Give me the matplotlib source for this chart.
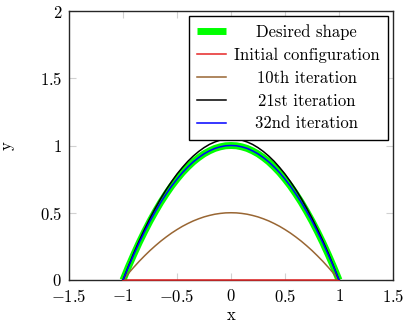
import matplotlib
matplotlib.use("Agg")
import matplotlib.pyplot as plt

plt.rcParams['font.family'] = ['cmr10', 'DejaVu Serif']
plt.rcParams['mathtext.fontset'] = 'cm'
plt.rcParams['axes.formatter.use_mathtext'] = True
plt.rcParams['font.size'] = 12

x = [-1.0, -0.95, -0.9, -0.85, -0.8, -0.75, -0.7, -0.65, -0.6, -0.55, -0.5,
     -0.45, -0.4, -0.35, -0.3, -0.25, -0.2, -0.15, -0.1, -0.05, 0.0,
     0.05, 0.1, 0.15, 0.2, 0.25, 0.3, 0.35, 0.4, 0.45, 0.5,
     0.55, 0.6, 0.65, 0.7, 0.75, 0.8, 0.85, 0.9, 0.95, 1.0]
desired = [0.0, 0.098, 0.19, 0.278, 0.36, 0.438, 0.51, 0.578, 0.64, 0.698, 0.75,
           0.798, 0.84, 0.878, 0.91, 0.938, 0.96, 0.978, 0.99, 0.998, 1.0,
           0.998, 0.99, 0.978, 0.96, 0.938, 0.91, 0.878, 0.84, 0.798, 0.75,
           0.698, 0.64, 0.578, 0.51, 0.438, 0.36, 0.278, 0.19, 0.098, 0.0]
initial = [0.0] * 41
iter10 = [0.0, 0.049, 0.095, 0.139, 0.18, 0.219, 0.255, 0.289, 0.32, 0.349, 0.375,
          0.399, 0.42, 0.439, 0.455, 0.469, 0.48, 0.489, 0.495, 0.499, 0.5,
          0.499, 0.495, 0.489, 0.48, 0.469, 0.455, 0.439, 0.42, 0.399, 0.375,
          0.349, 0.32, 0.289, 0.255, 0.219, 0.18, 0.139, 0.095, 0.049, 0.0]
iter21 = [0.0, 0.102, 0.2, 0.291, 0.377, 0.459, 0.535, 0.606, 0.672, 0.732, 0.788,
          0.837, 0.882, 0.921, 0.955, 0.984, 1.008, 1.026, 1.04, 1.047, 1.05,
          1.047, 1.04, 1.026, 1.008, 0.984, 0.955, 0.921, 0.882, 0.837, 0.788,
          0.732, 0.672, 0.606, 0.535, 0.459, 0.377, 0.291, 0.2, 0.102, 0.0]
iter32 = [0.0, 0.098, 0.19, 0.278, 0.36, 0.438, 0.51, 0.578, 0.64, 0.698, 0.75,
          0.798, 0.84, 0.878, 0.91, 0.938, 0.96, 0.978, 0.99, 0.998, 1.0,
          0.998, 0.99, 0.978, 0.96, 0.938, 0.91, 0.878, 0.84, 0.798, 0.75,
          0.698, 0.64, 0.578, 0.51, 0.438, 0.36, 0.278, 0.19, 0.098, 0.0]

labels = ["Desired shape", "Initial configuration", "10th iteration",
          "21st iteration", "32nd iteration"]
xticks = [-1.5, -1, -0.5, 0, 0.5, 1, 1.5]
yticks = [0, 0.5, 1, 1.5, 2]

fig = plt.figure(figsize=(4.15, 3.24), dpi=100)
ax = fig.add_axes([69/415, 44/324, (393-69)/415, (280-11)/324])

ax.plot(x, desired, color=(0, 1, 0), lw=5, solid_capstyle='butt', label=labels[0], zorder=2)
ax.plot(x, initial, color=(0.9, 0.15, 0.15), lw=1.1, label=labels[1], zorder=3, clip_on=False)
ax.plot(x, iter10, color=(0.6, 0.4, 0.2), lw=1.1, label=labels[2], zorder=3)
ax.plot(x, iter21, color='black', lw=1.1, label=labels[3], zorder=3)
ax.plot(x, iter32, color='blue', lw=1.1, label=labels[4], zorder=4)

ax.set_xlim(-1.5, 1.5)
ax.set_ylim(0, 2)
ax.set_xticks(xticks)
ax.set_yticks(yticks)
ax.set_xticklabels(["$-1.5$", "$-1$", "$-0.5$", "$0$", "$0.5$", "$1$", "$1.5$"])
ax.set_yticklabels(["$0$", "$0.5$", "$1$", "$1.5$", "$2$"])
ax.tick_params(direction='in', length=5, width=0.8, color=(0.82, 0.82, 0.82),
               top=True, right=True, labelsize=12)
ax.tick_params(axis='x', pad=6)
ax.tick_params(axis='y', pad=5)
for s in ax.spines.values():
    s.set_linewidth(1.0)
    s.set_color((0.15, 0.15, 0.15))
ax.set_xlabel("x", fontsize=12, labelpad=2)
ax.set_ylabel("y", fontsize=12, labelpad=18, rotation=90)

leg = ax.legend(loc='upper right', fontsize=12, frameon=True, fancybox=False,
                edgecolor='black', framealpha=1, borderaxespad=0.3,
                handlelength=1.75, handletextpad=0.45, labelspacing=0.45,
                borderpad=0.5)
leg.get_frame().set_linewidth(1.0)

fig.canvas.draw()
r = fig.canvas.get_renderer()
texts = leg.get_texts()
ws = [t.get_window_extent(r).width for t in texts]
mw = max(ws)
for t, w in zip(texts, ws):
    t.set_position(((mw - w) / 2, 0))

fig.savefig("out.png", dpi=100)
